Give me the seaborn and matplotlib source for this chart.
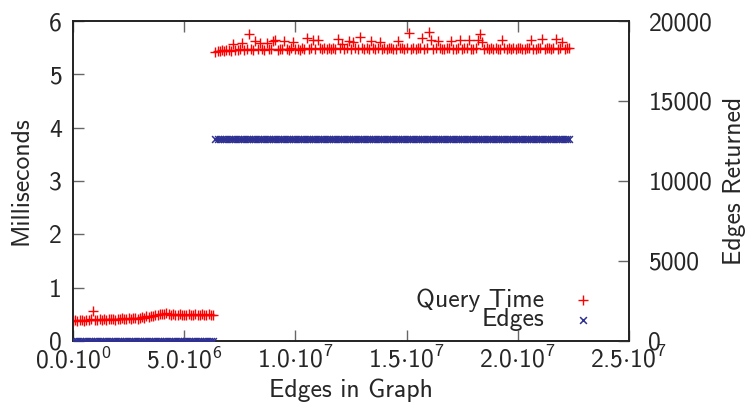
import numpy as np
import pandas as pd
import matplotlib
matplotlib.use("Agg")
import matplotlib.pyplot as plt
import seaborn as sns
from matplotlib.ticker import FixedLocator, FixedFormatter

# Edges in graph (millions) and query time (ms), small graphs
x_low = [0.0, 0.1, 0.2, 0.3, 0.4, 0.5, 0.6, 0.7, 0.8, 0.9,
         1.0, 1.1, 1.2, 1.3, 1.4, 1.5, 1.6, 1.7, 1.8, 1.9,
         2.0, 2.1, 2.2, 2.3, 2.4, 2.5, 2.6, 2.7, 2.8, 2.9,
         3.0, 3.1, 3.2, 3.3, 3.4, 3.5, 3.6, 3.7, 3.8, 3.9,
         4.0, 4.1, 4.2, 4.3, 4.4, 4.5, 4.6, 4.7, 4.8, 4.9,
         5.0, 5.1, 5.2, 5.3, 5.4, 5.5, 5.6, 5.7, 5.8, 5.9,
         6.0, 6.1, 6.2, 6.3]
time_low = [0.37, 0.39, 0.38, 0.40, 0.39, 0.38, 0.40, 0.39, 0.41, 0.56,
            0.40, 0.39, 0.41, 0.40, 0.42, 0.40, 0.41, 0.42, 0.41, 0.40,
            0.42, 0.41, 0.43, 0.42, 0.41, 0.43, 0.42, 0.44, 0.43, 0.42,
            0.44, 0.45, 0.44, 0.46, 0.45, 0.47, 0.46, 0.48, 0.49, 0.50,
            0.51, 0.50, 0.52, 0.50, 0.49, 0.50, 0.48, 0.49, 0.50, 0.48,
            0.49, 0.48, 0.50, 0.49, 0.48, 0.50, 0.49, 0.48, 0.50, 0.49,
            0.48, 0.50, 0.49, 0.48]

# large graphs
x_high = [6.4, 6.5, 6.6, 6.7, 6.8, 6.9, 7.0, 7.1, 7.2, 7.3,
          7.4, 7.5, 7.6, 7.7, 7.8, 7.9, 8.0, 8.1, 8.2, 8.3,
          8.4, 8.5, 8.6, 8.7, 8.8, 8.9, 9.0, 9.1, 9.2, 9.3,
          9.4, 9.5, 9.6, 9.7, 9.8, 9.9, 10.0, 10.1, 10.2, 10.3,
          10.4, 10.5, 10.6, 10.7, 10.8, 10.9, 11.0, 11.1, 11.2, 11.3,
          11.4, 11.5, 11.6, 11.7, 11.8, 11.9, 12.0, 12.1, 12.2, 12.3,
          12.4, 12.5, 12.6, 12.7, 12.8, 12.9, 13.0, 13.1, 13.2, 13.3,
          13.4, 13.5, 13.6, 13.7, 13.8, 13.9, 14.0, 14.1, 14.2, 14.3,
          14.4, 14.5, 14.6, 14.7, 14.8, 14.9, 15.0, 15.1, 15.2, 15.3,
          15.4, 15.5, 15.6, 15.7, 15.8, 15.9, 16.0, 16.1, 16.2, 16.3,
          16.4, 16.5, 16.6, 16.7, 16.8, 16.9, 17.0, 17.1, 17.2, 17.3,
          17.4, 17.5, 17.6, 17.7, 17.8, 17.9, 18.0, 18.1, 18.2, 18.3,
          18.4, 18.5, 18.6, 18.7, 18.8, 18.9, 19.0, 19.1, 19.2, 19.3,
          19.4, 19.5, 19.6, 19.7, 19.8, 19.9, 20.0, 20.1, 20.2, 20.3,
          20.4, 20.5, 20.6, 20.7, 20.8, 20.9, 21.0, 21.1, 21.2, 21.3,
          21.4, 21.5, 21.6, 21.7, 21.8, 21.9, 22.0, 22.1, 22.2, 22.3]
time_high = [5.42, 5.44, 5.43, 5.45, 5.44, 5.46, 5.45, 5.44, 5.57, 5.46,
             5.45, 5.47, 5.59, 5.46, 5.48, 5.76, 5.47, 5.45, 5.63, 5.48,
             5.59, 5.47, 5.46, 5.59, 5.48, 5.47, 5.63, 5.65, 5.46, 5.48,
             5.47, 5.63, 5.48, 5.46, 5.49, 5.61, 5.47, 5.48, 5.46, 5.49,
             5.48, 5.68, 5.47, 5.49, 5.65, 5.48, 5.65, 5.49, 5.47, 5.50,
             5.48, 5.49, 5.47, 5.50, 5.48, 5.67, 5.49, 5.57, 5.48, 5.50,
             5.63, 5.48, 5.61, 5.49, 5.47, 5.70, 5.50, 5.48, 5.49, 5.47,
             5.63, 5.49, 5.48, 5.50, 5.61, 5.47, 5.49, 5.48, 5.50, 5.49,
             5.48, 5.47, 5.63, 5.49, 5.50, 5.48, 5.49, 5.78, 5.47, 5.49,
             5.48, 5.50, 5.49, 5.68, 5.47, 5.49, 5.80, 5.65, 5.48, 5.50,
             5.63, 5.49, 5.47, 5.48, 5.50, 5.49, 5.63, 5.48, 5.47, 5.49,
             5.65, 5.48, 5.50, 5.49, 5.65, 5.47, 5.48, 5.49, 5.65, 5.76,
             5.61, 5.48, 5.49, 5.47, 5.50, 5.48, 5.49, 5.48, 5.47, 5.65,
             5.49, 5.48, 5.50, 5.47, 5.49, 5.48, 5.50, 5.49, 5.47, 5.48,
             5.49, 5.50, 5.65, 5.48, 5.47, 5.49, 5.50, 5.67, 5.48, 5.49,
             5.50, 5.48, 5.49, 5.67, 5.47, 5.49, 5.61, 5.48, 5.50, 5.49]

# edges returned, constant within each regime
edges_low_value = 0
edges_high_value = 12600

x_ticks = [0, 5e6, 1e7, 1.5e7, 2e7, 2.5e7]
x_tick_labels = [r"$0.0{\cdot}10^{0}$", r"$5.0{\cdot}10^{6}$", r"$1.0{\cdot}10^{7}$",
                 r"$1.5{\cdot}10^{7}$", r"$2.0{\cdot}10^{7}$", r"$2.5{\cdot}10^{7}$"]
ms_ticks = [0, 1, 2, 3, 4, 5, 6]
edge_ticks = [0, 5000, 10000, 15000, 20000]

df = pd.DataFrame({
    "edges_in_graph": np.array(x_low + x_high) * 1e6,
    "ms": time_low + time_high,
    "returned": [edges_low_value] * len(x_low) + [edges_high_value] * len(x_high),
})

sns.set_style("ticks")
plt.rcParams["font.family"] = ["cmss10", "DejaVu Sans"]
plt.rcParams["mathtext.fontset"] = "custom"
plt.rcParams["mathtext.rm"] = "cmss10"
plt.rcParams["mathtext.it"] = "cmss10"
plt.rcParams["mathtext.sf"] = "cmss10"
plt.rcParams["axes.unicode_minus"] = False

fs = 18.5

fig = plt.figure(figsize=(7.46, 4.04), dpi=100)
ax = fig.add_axes([0.0979, 0.156, 0.7453, 0.792])
ax2 = ax.twinx()

red = "#ff0000"
blue = "#2e3192"

sns.scatterplot(data=df, x="edges_in_graph", y="ms", marker="+", color=red,
                s=60, linewidth=1.0, ax=ax, zorder=3, label="Query Time", legend=False)
sns.scatterplot(data=df, x="edges_in_graph", y="returned", marker="x", color=blue,
                s=24, linewidth=1.1, ax=ax2, zorder=3, label="Edges", legend=False)

ax.set_xlim(0, 2.5e7)
ax.set_ylim(0, 6)
ax2.set_ylim(0, 20000)

ax.xaxis.set_major_locator(FixedLocator(x_ticks))
ax.xaxis.set_major_formatter(FixedFormatter(x_tick_labels))
ax.set_yticks(ms_ticks)
ax2.set_yticks(edge_ticks)

ax.tick_params(axis="x", direction="in", length=8, width=1, color="#666666",
               top=True, labelsize=fs, pad=4)
ax.tick_params(axis="y", direction="in", length=8, width=1, color="#666666",
               right=False, labelsize=fs, pad=8)
ax2.tick_params(axis="y", direction="in", length=8, width=1, color="#666666",
                labelsize=fs, pad=14)
ax2.tick_params(axis="x", top=False, bottom=False)

for a in (ax, ax2):
    for s in a.spines.values():
        s.set_linewidth(1.2)
        s.set_color("#222222")
        s.set_visible(True)

ax.set_xlabel("Edges in Graph", fontsize=fs, labelpad=4)
ax.set_ylabel("Milliseconds", fontsize=fs, labelpad=12)
ax2.set_ylabel("Edges Returned", fontsize=fs, labelpad=8)

h1, l1 = ax.get_legend_handles_labels()
h2, l2 = ax2.get_legend_handles_labels()
leg = ax2.legend(h1 + h2, l1 + l2, loc="lower right", bbox_to_anchor=(0.968, -0.01),
                 frameon=False, markerfirst=False, fontsize=fs, handletextpad=0.9,
                 handlelength=1.2, labelspacing=-0.15, borderpad=0.0)
for t in leg.get_texts():
    t.set_ha("right")

fig.savefig("out.png", dpi=100)
